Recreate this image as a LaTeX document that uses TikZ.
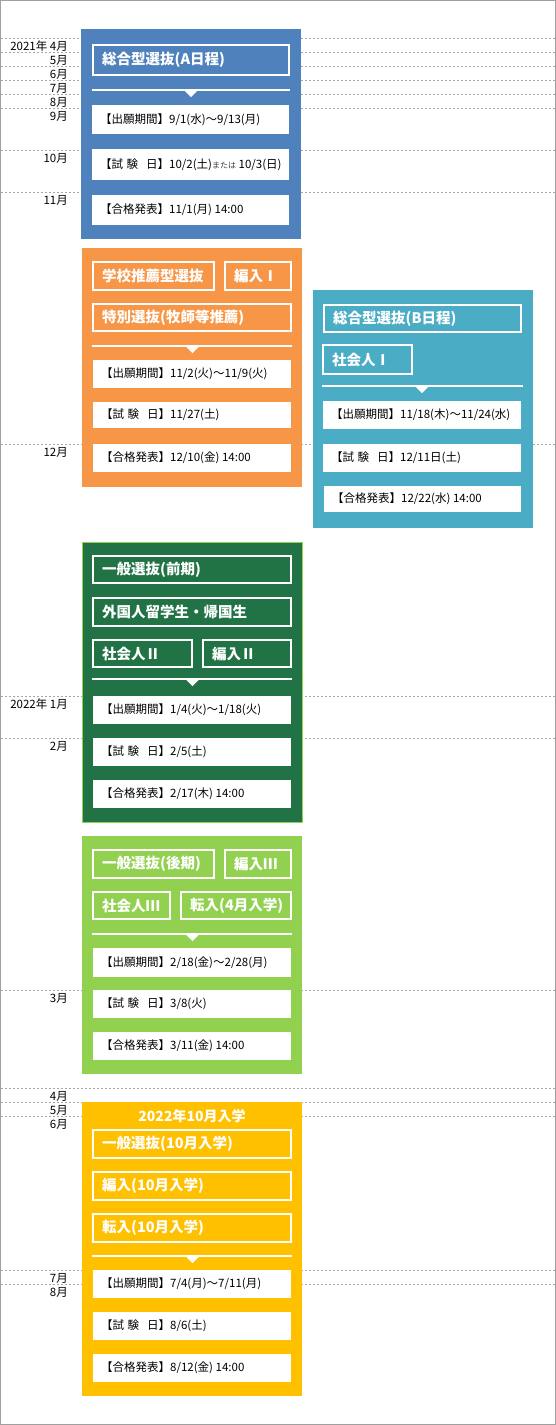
\documentclass[tikz,border=0pt]{standalone}
\usepackage{fontspec}
\setmainfont{Noto Sans CJK JP}
\definecolor{cblue}{HTML}{4F81BD}
\definecolor{corange}{HTML}{F79646}
\definecolor{cteal}{HTML}{4BACC6}
\definecolor{cdgreen}{HTML}{217346}
\definecolor{clgreen}{HTML}{92D050}
\definecolor{cyellow}{HTML}{FFC000}
\definecolor{tickgray}{HTML}{A6A6A6}
\definecolor{framegray}{HTML}{A0A0A0}
\tikzset{
  tagframe/.style={draw=white, line width=2pt},
  tagtext/.style={anchor=west, text=white, inner sep=0pt, font=\fontsize{14.5}{14.5}\selectfont\bfseries},
  infotext/.style={anchor=west, text=black, inner sep=0pt, font=\fontsize{11.5}{11.5}\selectfont},
  monthtext/.style={anchor=east, text=black, inner sep=0pt, font=\fontsize{11.5}{11.5}\selectfont},
  ticks/.style={draw=tickgray, line width=0.8pt, dash pattern=on 2pt off 2pt},
}
\newcommand\tagbox[6]{%
  \draw[tagframe] ({#2+1},{#3+1}) rectangle ({#4-1},{#5-1});
  \node[tagtext] (#1) at ({#2+10},{(#3+#5)/2}) {#6};}
\newcommand\infobox[6]{%
  \fill[white] (#2,#3) rectangle (#4,#5);
  \node[infotext] (#1) at ({#2+8},{(#3+#5)/2}) {#6};}
\newcommand\sepline[4]{%
  \draw[white, line width=2pt] (#1,#3) -- (#2,#3);
  \fill[white] ({#4-8},{#3-1}) -- (#4,{#3+7}) -- ({#4+8},{#3-1}) -- cycle;}
\newcommand\monthtick[3]{%
  \draw[ticks] (1,#2) -- (555,#2);
  \node[monthtext] (#1) at (68,{#2+8.5}) {#3};}
\newcommand\shiken{【試\hspace{0.3em}験\hspace{0.7em}日】}
\begin{document}
\begin{tikzpicture}[x=1pt,y=-1pt]
\useasboundingbox (0,0) rectangle (556,1425);
\fill[white] (0,0) rectangle (556,1425);
\draw[framegray, line width=1pt] (0.5,0.5) rectangle (555.5,1424.5);
% month ticks
\monthtick{m1}{38}{2021年 4月}
\monthtick{m2}{52}{5月}
\monthtick{m3}{66}{6月}
\monthtick{m4}{80}{7月}
\monthtick{m5}{94}{8月}
\monthtick{m6}{108}{9月}
\monthtick{m7}{150}{10月}
\monthtick{m8}{192}{11月}
\monthtick{m9}{444}{12月}
\monthtick{m10}{696}{2022年 1月}
\monthtick{m11}{738}{2月}
\monthtick{m12}{990}{3月}
\monthtick{m13}{1088}{4月}
\monthtick{m14}{1102}{5月}
\monthtick{m15}{1116}{6月}
\monthtick{m16}{1270}{7月}
\monthtick{m17}{1284}{8月}
% blue panel
\fill[cblue] (81,29) rectangle (301,239);
\tagbox{a1}{92}{44}{290}{76}{総合型選抜(A日程)}
\sepline{92}{290}{90}{191}
\infobox{a2}{92}{105}{289}{134}{【出願期間】9/1(水)～9/13(月)}
\infobox{a3}{92}{149}{289}{180}{\shiken 10/2(土){\fontsize{8}{8}\selectfont\color{darkgray}または} 10/3(日)}
\infobox{a4}{92}{195}{289}{225}{【合格発表】11/1(月) 14:00}
% orange panel
\fill[corange] (82,248) rectangle (302,487);
\tagbox{b1}{92}{261}{215}{291}{学校推薦型選抜}
\tagbox{b2}{224}{261}{292}{291}{編入Ⅰ}
\tagbox{b3}{92}{303}{292}{332}{特別選抜(牧師等推薦)}
\sepline{92}{292}{346}{192.5}
\infobox{b4}{93}{360}{291}{388}{【出願期間】11/2(火)～11/9(火)}
\infobox{b5}{93}{402}{291}{428}{\shiken 11/27(土)}
\infobox{b6}{93}{444}{291}{472}{【合格発表】12/10(金) 14:00}
% teal panel
\fill[cteal] (313,290) rectangle (533,528);
\tagbox{c1}{323}{304}{522}{333}{総合型選抜(B日程)}
\tagbox{c2}{322}{344}{413}{375}{社会人Ⅰ}
\sepline{322}{523}{386}{422}
\infobox{c3}{323}{401}{521}{429}{【出願期間】11/18(木)～11/24(水)}
\infobox{c4}{323}{444}{521}{472}{\shiken 12/11日(土)}
\infobox{c5}{324}{486}{521}{512}{【合格発表】12/22(水) 14:00}
% dark green panel
\filldraw[fill=cdgreen, draw=clgreen, line width=1pt] (82.5,542.5) rectangle (302.5,822.5);
\tagbox{d1}{92}{555}{292}{584}{一般選抜(前期)}
\tagbox{d2}{92}{597}{292}{627}{外国人留学生・帰国生}
\tagbox{d3}{92}{639}{193}{668}{社会人Ⅱ}
\tagbox{d4}{202}{639}{292}{668}{編入Ⅱ}
\sepline{92}{292}{679}{192.5}
\infobox{d5}{93}{696}{291}{724}{【出願期間】1/4(火)～1/18(火)}
\infobox{d6}{93}{738}{291}{766}{\shiken 2/5(土)}
\infobox{d7}{93}{780}{291}{808}{【合格発表】2/17(木) 14:00}
% light green panel
\fill[clgreen] (82,836) rectangle (302,1074);
\tagbox{e1}{92}{849}{215}{879}{一般選抜(後期)}
\tagbox{e2}{224}{849}{292}{879}{編入Ⅲ}
\tagbox{e3}{92}{891}{171}{920}{社会人Ⅲ}
\tagbox{e4}{180}{891}{292}{920}{転入(4月入学)}
\sepline{92}{292}{934}{192.5}
\infobox{e5}{93}{948}{291}{977}{【出願期間】2/18(金)～2/28(月)}
\infobox{e6}{93}{990}{291}{1018}{\shiken 3/8(火)}
\infobox{e7}{93}{1032}{291}{1060}{【合格発表】3/11(金) 14:00}
% yellow panel
\fill[cyellow] (82,1102) rectangle (302,1396);
\node[text=white, inner sep=0pt, font=\fontsize{14}{14}\selectfont\bfseries] (f0) at (192,1116) {2022年10月入学};
\tagbox{f1}{92}{1129}{292}{1159}{一般選抜(10月入学)}
\tagbox{f2}{92}{1171}{292}{1201}{編入(10月入学)}
\tagbox{f3}{92}{1213}{292}{1243}{転入(10月入学)}
\sepline{92}{292}{1256}{192.5}
\infobox{f4}{93}{1270}{291}{1298}{【出願期間】7/4(月)～7/11(月)}
\infobox{f5}{93}{1312}{291}{1340}{\shiken 8/6(土)}
\infobox{f6}{93}{1354}{291}{1382}{【合格発表】8/12(金) 14:00}
\end{tikzpicture}
\end{document}
